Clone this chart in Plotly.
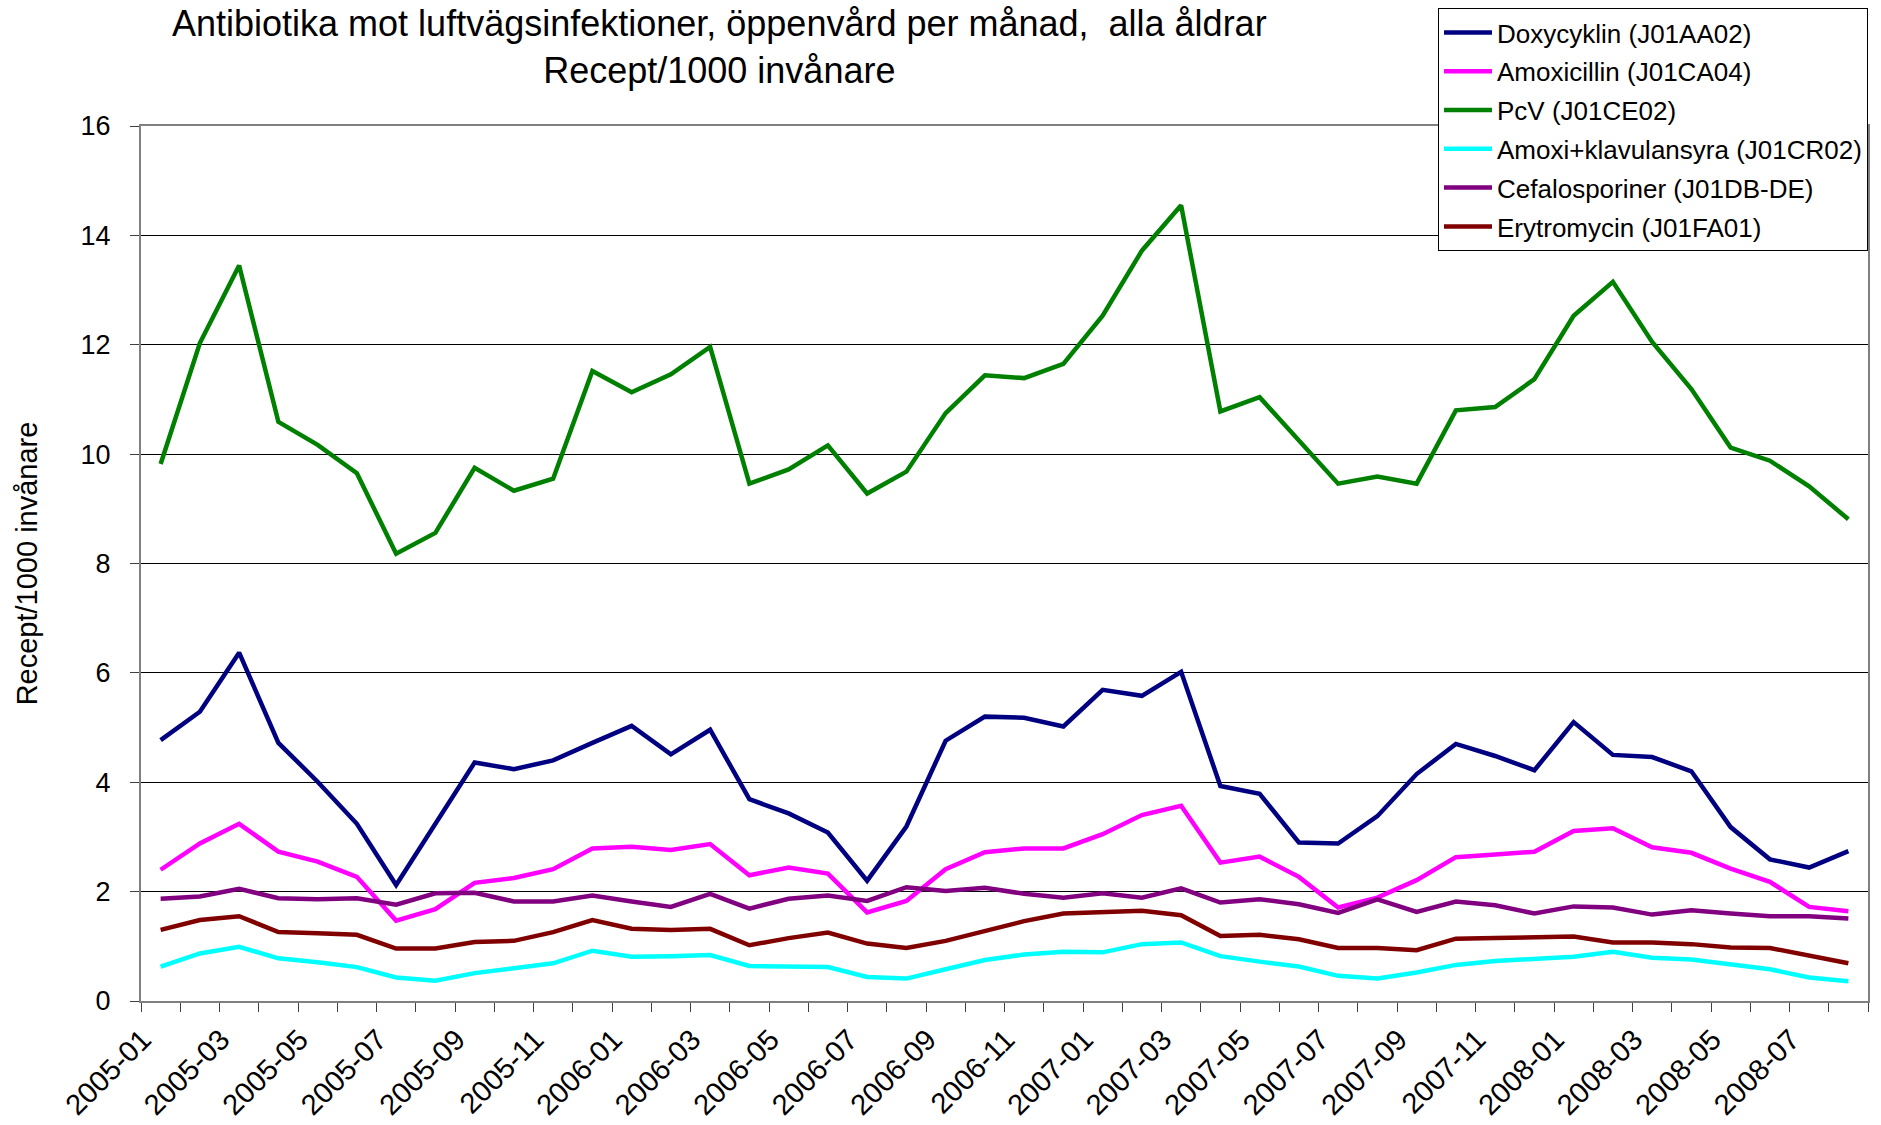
import plotly.graph_objects as go

months = ["2005-01","2005-02","2005-03","2005-04","2005-05","2005-06","2005-07","2005-08","2005-09","2005-10","2005-11","2005-12",
          "2006-01","2006-02","2006-03","2006-04","2006-05","2006-06","2006-07","2006-08","2006-09","2006-10","2006-11","2006-12",
          "2007-01","2007-02","2007-03","2007-04","2007-05","2007-06","2007-07","2007-08","2007-09","2007-10","2007-11","2007-12",
          "2008-01","2008-02","2008-03","2008-04","2008-05","2008-06","2008-07","2008-08"]

doxycyklin = [4.77,5.29,6.37,4.72,4.01,3.24,2.12,3.25,4.36,4.24,4.40,4.72,
              5.03,4.51,4.96,3.69,3.43,3.08,2.20,3.19,4.76,5.20,5.18,5.02,
              5.69,5.58,6.02,3.93,3.79,2.90,2.88,3.38,4.15,4.70,4.48,4.22,
              5.10,4.50,4.46,4.20,3.18,2.59,2.44,2.74]
amoxicillin = [2.40,2.88,3.24,2.73,2.55,2.27,1.47,1.68,2.16,2.25,2.41,2.79,
               2.82,2.76,2.87,2.30,2.44,2.33,1.62,1.83,2.41,2.72,2.79,2.79,
               3.05,3.40,3.57,2.53,2.64,2.27,1.71,1.89,2.21,2.63,2.68,2.73,
               3.11,3.16,2.81,2.71,2.42,2.18,1.72,1.64]
pcv = [9.82,12.03,13.45,10.59,10.17,9.65,8.18,8.56,9.75,9.33,9.55,11.52,
       11.13,11.46,11.96,9.46,9.72,10.16,9.28,9.68,10.75,11.44,11.39,11.65,
       12.53,13.72,14.55,10.78,11.04,10.25,9.46,9.59,9.46,10.80,10.86,11.37,
       12.53,13.15,12.05,11.19,10.12,9.88,9.41,8.81]
amoxi_klav = [0.63,0.87,0.99,0.78,0.71,0.62,0.43,0.37,0.51,0.60,0.69,0.92,
              0.81,0.82,0.84,0.64,0.64,0.62,0.44,0.41,0.58,0.75,0.85,0.90,
              0.89,1.04,1.07,0.82,0.72,0.63,0.46,0.41,0.52,0.66,0.73,0.78,
              0.81,0.90,0.79,0.76,0.67,0.58,0.43,0.36]
cefalosporiner = [1.87,1.91,2.05,1.88,1.86,1.88,1.76,1.97,1.98,1.82,1.82,1.93,
                  1.82,1.72,1.96,1.69,1.87,1.93,1.83,2.08,2.01,2.07,1.96,1.89,
                  1.97,1.89,2.06,1.80,1.86,1.77,1.61,1.86,1.63,1.82,1.75,1.60,
                  1.73,1.71,1.58,1.66,1.60,1.55,1.55,1.51]
erytromycin = [1.30,1.48,1.55,1.26,1.24,1.21,0.96,0.96,1.08,1.10,1.26,1.48,
               1.32,1.30,1.32,1.02,1.15,1.25,1.05,0.97,1.10,1.28,1.46,1.60,
               1.63,1.65,1.57,1.19,1.21,1.13,0.97,0.97,0.93,1.14,1.15,1.16,
               1.18,1.07,1.07,1.04,0.98,0.97,0.83,0.69]

series = [
    ("Doxycyklin (J01AA02)", doxycyklin, "#000080"),
    ("Amoxicillin (J01CA04)", amoxicillin, "#FF00FF"),
    ("PcV (J01CE02)", pcv, "#008000"),
    ("Amoxi+klavulansyra (J01CR02)", amoxi_klav, "#00FFFF"),
    ("Cefalosporiner (J01DB-DE)", cefalosporiner, "#800080"),
    ("Erytromycin (J01FA01)", erytromycin, "#800000"),
]

title_lines = ["Antibiotika mot luftvägsinfektioner, öppenvård per månad,  alla åldrar",
               "Recept/1000 invånare"]
y_title = "Recept/1000 invånare"

idx = list(range(len(months)))
FONT = "Arial, 'Liberation Sans', sans-serif"

fig = go.Figure()
for k, (name, vals, col) in enumerate(series):
    fig.add_trace(go.Scatter(x=idx, y=vals, mode="lines", name=name,
                             legendgroup=f"g{k}",
                             line=dict(color=col, width=4.5)))

# plot area: x 141..1868, y 126..1001 (pixels)
fig.add_annotation(text="<br>".join(title_lines).replace("  ", "&nbsp; "),
                   xref="paper", yref="paper",
                   x=(719 - 141) / 1727, y=(1001 - 1) / 875,
                   xanchor="center", yanchor="top", showarrow=False,
                   align="center",
                   font=dict(size=36, color="black", family=FONT))

fig.update_layout(
    width=1881, height=1125,
    margin=dict(l=141, r=13, t=126, b=124, autoexpand=False),
    paper_bgcolor="white", plot_bgcolor="white",
    font=dict(family=FONT, color="black"),
    legend=dict(x=1, xanchor="right", y=(1001 - 8) / 875, yanchor="top",
                bordercolor="black", borderwidth=1, bgcolor="white",
                font=dict(size=26, color="black", family=FONT),
                tracegroupgap=2, itemwidth=48),
    showlegend=True,
)

fig.update_xaxes(
    range=[-0.5, len(months) - 0.5],
    tickmode="array", tickvals=idx[::2], ticktext=months[::2],
    tickangle=-45, ticks="", tickfont=dict(size=29),
    ticklabelshift=-18, ticklabelstandoff=8,
    showgrid=False, zeroline=False,
    showline=True, linecolor="#808080", linewidth=2, mirror=True,
    minor=dict(tickmode="array", tickvals=[i - 0.5 for i in range(len(months) + 1)],
               ticks="outside", ticklen=9, tickcolor="#404040", tickwidth=1, showgrid=False),
)
fig.update_yaxes(
    range=[0, 16], dtick=2, tick0=0,
    ticks="outside", ticklen=9, tickcolor="#404040", tickwidth=1,
    tickfont=dict(size=27), ticklabelstandoff=14,
    showgrid=True, gridcolor="#000000", gridwidth=1, zeroline=False,
    showline=True, linecolor="#808080", linewidth=2, mirror=True,
    title=dict(text=y_title, font=dict(size=29), standoff=34),
)

fig.write_html("out.html", config={"displayModeBar": False},
               post_script="document.body.style.margin='0';")
